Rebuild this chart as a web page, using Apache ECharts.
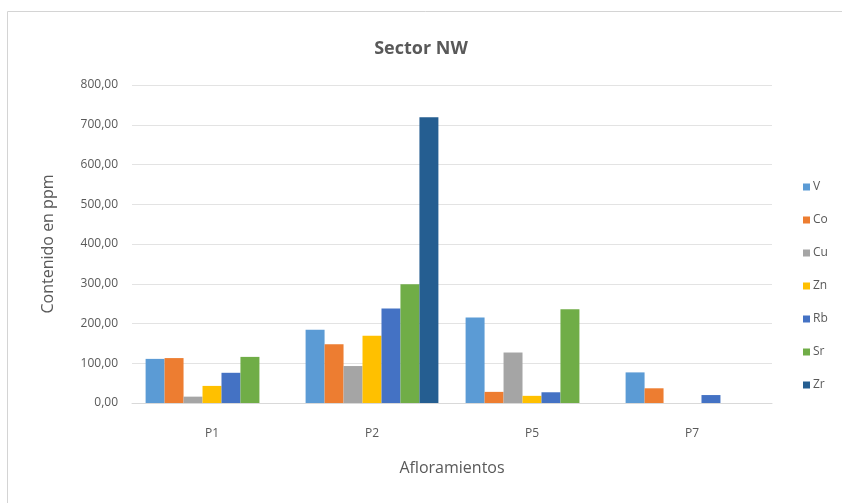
<!DOCTYPE html>
<html>
<head>
<meta charset="utf-8">
<script src="https://cdn.jsdelivr.net/npm/echarts@6/dist/echarts.min.js"></script>
<style>
  html, body { margin: 0; padding: 0; background: #ffffff; }
  #chart { width: 842px; height: 503px; }
</style>
</head>
<body>
<div id="chart"></div>
<script>
// Outcrops (x categories)
const categories = ['P1', 'P2', 'P5', 'P7'];

// Element contents in ppm per outcrop (null = not measured)
const V  = [111, 184, 215, 77];
const Co = [113, 148, 28, 37];
const Cu = [16, 93, 127, null];
const Zn = [43, 169, 18, null];
const Rb = [76, 238, 27, 20];
const Sr = [116, 299, 236, null];
const Zr = [null, 719, null, null];

const seriesNames = ['V', 'Co', 'Cu', 'Zn', 'Rb', 'Sr', 'Zr'];
const seriesData = [V, Co, Cu, Zn, Rb, Sr, Zr];
const colors = ['#5B9BD5', '#ED7D31', '#A5A5A5', '#FFC000', '#4472C4', '#70AD47', '#255E91'];

const textColor = '#595959';
const fontFamily = '"Open Sans", "Liberation Sans", sans-serif';

const chart = echarts.init(document.getElementById('chart'), null, { renderer: 'canvas' });

chart.setOption({
  animation: false,
  color: colors,
  textStyle: { fontFamily: fontFamily },
  graphic: [{
    type: 'rect',
    shape: { x: 7.5, y: 11.5, width: 900, height: 600 },
    style: { fill: 'none', stroke: '#d4d4d4', lineWidth: 1 },
    silent: true
  }],
  title: {
    text: 'Sector NW',
    left: 'center',
    top: 35,
    textStyle: { color: textColor, fontSize: 18, fontWeight: 'bold', fontFamily: fontFamily }
  },
  legend: {
    orient: 'vertical',
    left: 798,
    top: 176,
    itemWidth: 7,
    itemHeight: 7,
    itemGap: 21,
    icon: 'rect',
    textStyle: { color: textColor, fontSize: 12, padding: [0, 0, 0, -2] },
    data: seriesNames
  },
  grid: { left: 132, right: 70, top: 85, bottom: 100 },
  xAxis: {
    type: 'category',
    data: categories,
    name: 'Afloramientos',
    nameLocation: 'middle',
    nameGap: 57,
    nameTextStyle: { color: textColor, fontSize: 16 },
    axisLine: { lineStyle: { color: '#d9d9d9' } },
    axisTick: { show: false },
    axisLabel: { color: textColor, fontSize: 12, margin: 25 }
  },
  yAxis: {
    type: 'value',
    min: 0,
    max: 800,
    interval: 100,
    name: 'Contenido en ppm',
    nameLocation: 'middle',
    nameGap: 76,
    nameTextStyle: { color: textColor, fontSize: 16 },
    axisLine: { show: false },
    axisTick: { show: false },
    splitLine: { lineStyle: { color: '#e3e3e3' } },
    axisLabel: {
      color: textColor,
      fontSize: 12,
      margin: 14,
      formatter: v => v.toFixed(2).replace('.', ',')
    }
  },
  series: seriesNames.map((name, i) => ({
    name: name,
    type: 'bar',
    data: seriesData[i],
    barGap: '0%',
    barCategoryGap: '17%'
  }))
});
</script>
</body>
</html>
